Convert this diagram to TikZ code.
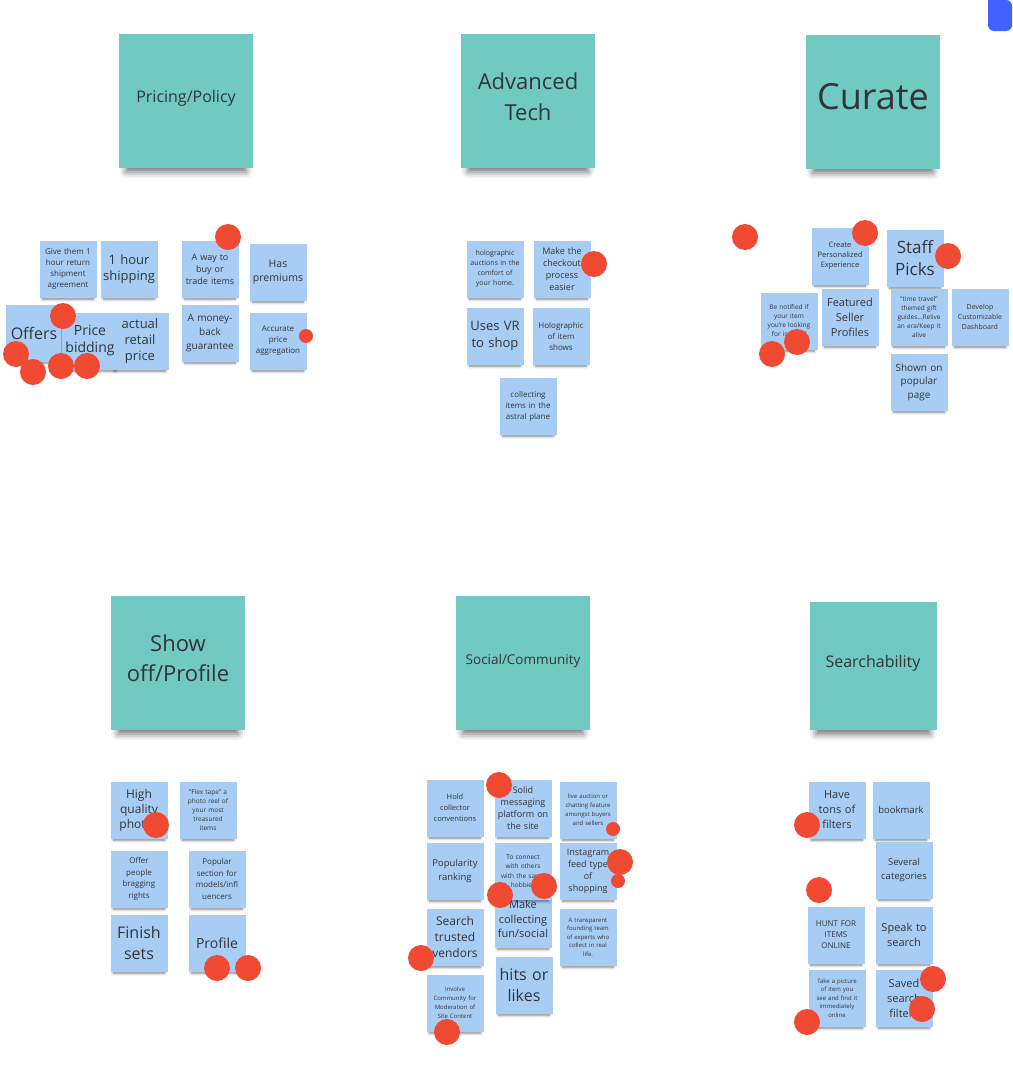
\documentclass[tikz,border=0pt]{standalone}
\usepackage{fontspec}
\setmainfont{Open Sans}
\usepackage{tikz}
\usetikzlibrary{shadows.blur}
\usepackage{xcolor}

\definecolor{tealnote}{RGB}{112,202,193}
\definecolor{bluenote}{RGB}{167,205,245}
\definecolor{votedot}{RGB}{240,74,50}
\definecolor{inktext}{RGB}{52,52,56}
\definecolor{boardbtn}{RGB}{66,98,255}

\tikzset{
  bignote/.style={fill=tealnote, minimum width=134pt, minimum height=134pt, inner sep=0pt,
    blur shadow={shadow xshift=0pt, shadow yshift=-12pt, shadow scale=0.9, shadow blur radius=7pt, shadow opacity=55}},
  headtext/.style={text width=124pt, align=center, inner sep=0pt, text=inktext},
  note/.style={fill=bluenote, minimum width=57pt, minimum height=57pt, text width=55pt,
    align=center, inner sep=0pt, text=inktext,
    blur shadow={shadow xshift=0pt, shadow yshift=-5pt, shadow scale=0.9, shadow blur radius=3pt, shadow opacity=50}},
  fs/.style 2 args={font=\fontsize{#1}{#2}\selectfont},
  vote/.style={circle, fill=votedot, inner sep=0pt}
}

\begin{document}
\begin{tikzpicture}[x=1pt, y=-1pt]
  \useasboundingbox (0,0) rectangle (1012,1068);
  \fill[boardbtn] (1012,0) -- (988,0) [rounded corners=6pt] -- (988,31) -- (1012,31) -- cycle;

  % headline notes
  \node[bignote] (pricing) at (186,101) {};
  \node[headtext, fs={16}{20}] (pricingtext) at ([yshift=3pt]pricing.center) {Pricing/Policy};
  \node[bignote] (tech) at (528,101) {};
  \node[headtext, fs={22}{31}] (techtext) at ([yshift=4pt]tech.center) {Advanced\\Tech};
  \node[bignote] (curate) at (873,102) {};
  \node[headtext, fs={36}{44}] (curatetext) at ([yshift=5pt]curate.center) {Curate};
  \node[bignote] (showoff) at (178,663) {};
  \node[headtext, fs={22}{30}] (showofftext) at ([yshift=5pt]showoff.center) {Show\\off/Profile};
  \node[bignote] (social) at (523,663) {};
  \node[headtext, fs={13.5}{17}] (socialtext) at ([yshift=2pt]social.center) {Social/Community};
  \node[bignote, minimum width=127pt, minimum height=128pt] (search) at (873,666) {};
  \node[headtext, fs={16}{20}] (searchtext) at ([yshift=3pt]search.center) {Searchability};

  % pricing / policy
  \node[note, fs={8}{11}] (returns) at (68,269) {Give them 1\\hour return\\shipment\\agreement};
  \node[note, fs={13}{16}] (shiphour) at (129,269) {1 hour\\shipping};
  \node[note, fs={9}{12}] (trade) at (210,269) {A way to\\buy or\\trade items};
  \node[note, fs={10.5}{14}] (premiums) at (278,272) {Has\\premiums};
  \node[note, fs={16}{20}] (offers) at (34,333) {Offers};
  \node[note, fs={13}{16}] (retail) at (140,341) {actual\\retail\\price};
  \node[note, fs={14}{17}] (bidding) at (90,341) {Price\\bidding};
  \node[note, fs={10}{14}] (moneyback) at (210,333) {A money-\\back\\guarantee};
  \node[note, fs={8}{11}] (aggregate) at (278,341) {Accurate\\price\\aggregation};

  % advanced tech
  \node[note, fs={7}{10}] (holohome) at (495,269) {holographic\\auctions in the\\comfort of\\your home.};
  \node[note, fs={9}{12}] (checkout) at (562,269) {Make the\\checkout\\process\\easier};
  \node[note, fs={13}{17}] (vrshop) at (495,336) {Uses VR\\to shop};
  \node[note, fs={8}{11}] (holoitem) at (561,336) {Holographic\\of item\\shows};
  \node[note, fs={8}{11}] (astral) at (528,406) {collecting\\items in the\\astral plane};

  % curate
  \node[note, fs={7.5}{10}] (personal) at (840,256) {Create\\Personalized\\Experience};
  \node[note, fs={17}{22}] (staff) at (915,258) {Staff\\Picks};
  \node[note, fs={6.5}{9}] (notified) at (789,321) {Be notified if\\your item\\you're looking\\for is listed};
  \node[note, fs={11}{15}] (featured) at (850,317) {Featured\\Seller\\Profiles};
  \node[note, fs={6.5}{9}] (timetravel) at (919,317) {"time travel"\\themed gift\\guides...Relive\\an era/Keep it\\alive};
  \node[note, fs={7}{10}] (dashboard) at (980,317) {Develop\\Customizable\\Dashboard};
  \node[note, fs={10}{13.5}] (popular) at (919,382) {Shown on\\popular\\page};

  % show off / profile
  \node[note, fs={12}{15}] (photos) at (139,810) {High\\quality\\photos};
  \node[note, fs={6.5}{9}] (flextape) at (208,810) {"Flex tape" a\\photo reel of\\your most\\treasured\\items};
  \node[note, fs={8}{11.5}] (bragging) at (139,879) {Offer\\people\\bragging\\rights};
  \node[note, fs={8}{11.5}] (influencers) at (217,879) {Popular\\section for\\models/infl\\uencers};
  \node[note, fs={16}{21}] (finish) at (139,943) {Finish\\sets};
  \node[note, fs={14}{17}] (profile) at (217,943) {Profile};

  % social / community
  \node[note, fs={7.5}{11}] (conventions) at (455,808) {Hold\\collector\\conventions};
  \node[note, fs={9}{12}] (messaging) at (523,808) {Solid\\messaging\\platform on\\the site};
  \node[note, fs={6}{9}] (liveauction) at (588,810) {live auction or\\chatting feature\\amongst buyers\\and sellers};
  \node[note, fs={9.5}{13.5}] (ranking) at (455,871) {Popularity\\ranking};
  \node[note, fs={11}{14.5}] (funsocial) at (523,919) {Make\\collecting\\fun/social};
  \node[note, fs={6.5}{9.5}] (hobbies) at (523,871) {To connect\\with others\\with the same\\hobbies};
  \node[note, fs={9}{12}] (instagram) at (588,871) {Instagram\\feed type\\of\\shopping};
  \node[note, fs={12}{16}] (vendors) at (455,937) {Search\\trusted\\vendors};
  \node[note, fs={6}{8.5}] (founding) at (588,937) {A transparent\\founding team\\of experts who\\collect in real\\life.};
  \node[note, fs={16}{21}] (hits) at (524,985) {hits or\\likes};
  \node[note, fs={6}{9}] (moderation) at (455,1003) {Involve\\Community for\\Moderation of\\Site Content};

  % searchability
  \node[note, fs={11}{15}] (filters) at (837,810) {Have\\tons of\\filters};
  \node[note, fs={9.5}{12}] (bookmark) at (901,810) {bookmark};
  \node[note, fs={9.5}{13.5}] (categories) at (904,870) {Several\\categories};
  \node[note, fs={8}{11}] (hunt) at (836,935) {HUNT FOR\\ITEMS\\ONLINE};
  \node[note, fs={11}{15}] (speak) at (904,935) {Speak to\\search};
  \node[note, fs={6}{8.5}] (picture) at (837,998) {Take a picture\\of item you\\see and find it\\immediately\\online};
  \node[note, fs={11}{15}] (saved) at (904,998) {Saved\\search\\filters};

  % votes
  \foreach \x/\y/\r [count=\i] in {228/237/26, 63/316/26, 16/354/26, 33/372/26, 61/366/26, 87/366/26, 306/336/14,
      594/264/26, 745/237/26, 865/233/26, 948/256/26, 797/342/26, 772/354/26,
      156/825/26, 217/968/26, 248/968/26,
      499/785/26, 613/829/14, 500/895/26, 544/886/26, 620/862/26, 618/881/14, 421/958/26, 447/1032/26,
      807/825/26, 819/890/26, 807/1022/26, 933/979/26, 922/1009/26}
    \node[vote, minimum size=\r pt] (vote\i) at (\x,\y) {};
\end{tikzpicture}
\end{document}
